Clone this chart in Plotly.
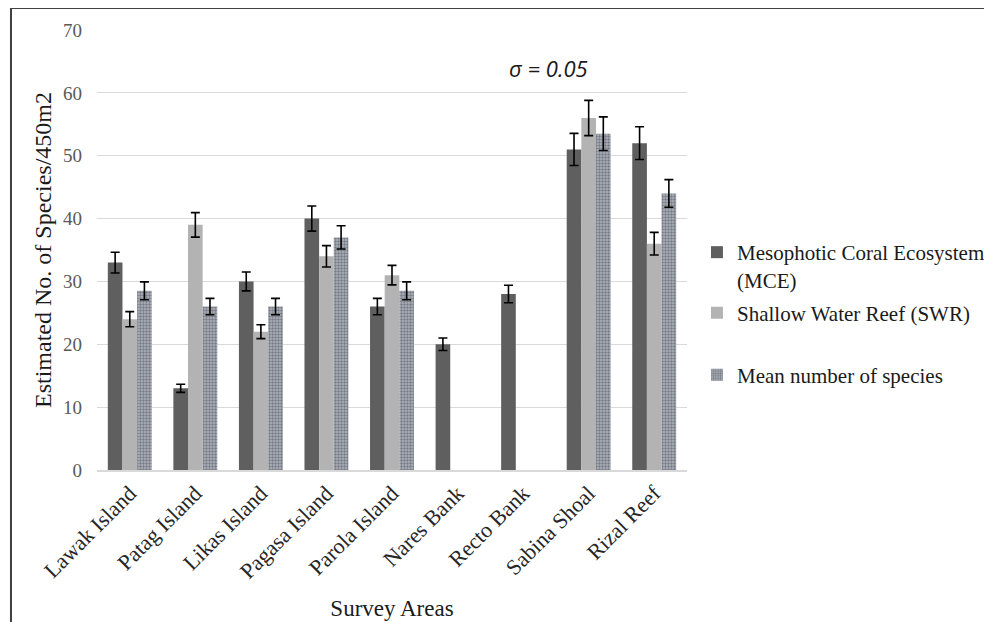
import plotly.graph_objects as go

categories = ["Lawak Island", "Patag Island", "Likas Island", "Pagasa Island", "Parola Island",
              "Nares Bank", "Recto Bank", "Sabina Shoal", "Rizal Reef"]
mce = [33, 13, 30, 40, 26, 20, 28, 51, 52]
swr = [24, 39, 22, 34, 31, None, None, 56, 36]
mean_species = [28.5, 26, 26, 37, 28.5, None, None, 53.5, 44]
error_percent = 5  # sigma = 0.05
y_ticks = [0, 10, 20, 30, 40, 50, 60, 70]

SERIF = "Liberation Serif, Times New Roman, serif"

err = dict(type="percent", value=error_percent, color="black", thickness=1.6, width=4.5)

fig = go.Figure()
fig.add_trace(go.Bar(
    x=categories, y=mce, name="Mesophotic Coral Ecosystem<br>(MCE)",
    marker=dict(color="#5f5f5f", line=dict(width=0)), error_y=err, legend="legend"))
fig.add_trace(go.Bar(
    x=categories, y=swr, name="Shallow Water Reef (SWR)",
    marker=dict(color="#b3b3b3", line=dict(width=0)), error_y=err, legend="legend2"))
fig.add_trace(go.Bar(
    x=categories, y=mean_species, name="Mean number of species",
    marker=dict(color="#aeb1b8", line=dict(width=0),
                pattern=dict(shape=".", fgcolor="#3e4454", bgcolor="#b0b3ba", size=3, solidity=0.5)),
    error_y=err, legend="legend3"))

legend_common = dict(font=dict(family=SERIF, size=21, color="#1a1a1a"), bgcolor="rgba(0,0,0,0)",
                     xanchor="left", valign="top", itemclick=False, itemdoubleclick=False)

fig.update_layout(
    width=984, height=614,
    margin=dict(l=89, r=305, t=22, b=152, autoexpand=False),
    paper_bgcolor="white", plot_bgcolor="white",
    barmode="group", bargap=0.33, bargroupgap=0,
    showlegend=True,
    legend=dict(x=1.0169, y=0.4636, yanchor="middle", **legend_common),
    legend2=dict(x=1.0169, y=0.3568, yanchor="middle", **legend_common),
    legend3=dict(x=1.0169, y=0.2159, yanchor="middle", **legend_common),
    xaxis=dict(
        tickangle=-45, tickfont=dict(family=SERIF, size=22, color="#262626"),
        showline=True, linecolor="#d9d9d9", linewidth=1.5, ticks="", automargin=False,
        title=dict(text="Survey Areas", font=dict(family=SERIF, size=23, color="#1a1a1a"), standoff=17),
    ),
    yaxis=dict(
        range=[0, 70], tickvals=y_ticks, tickfont=dict(family=SERIF, size=19, color="#595959"),
        showgrid=True, gridcolor="#d9d9d9", gridwidth=1, zeroline=False, ticks="", automargin=False,
        ticklabelstandoff=14,
        title=dict(text="Estimated No. of Species/450m2", font=dict(family=SERIF, size=24, color="#1a1a1a"), standoff=4),
    ),
    annotations=[dict(
        text="σ = 0.05", xref="paper", yref="paper", x=0.765, y=0.913,
        xanchor="center", yanchor="middle", showarrow=False,
        font=dict(family="Open Sans, Liberation Sans, sans-serif", size=22, color="#1a1a1a", style="italic"))],
    shapes=[
        dict(type="line", xref="paper", yref="paper", x0=-0.1458, x1=1.52, y0=1.05, y1=1.05,
             line=dict(color="#404040", width=2)),
        dict(type="line", xref="paper", yref="paper", x0=-0.1458, x1=-0.1458, y0=1.05, y1=-0.36,
             line=dict(color="#404040", width=2)),
    ],
)

fig.write_html("out.html")
